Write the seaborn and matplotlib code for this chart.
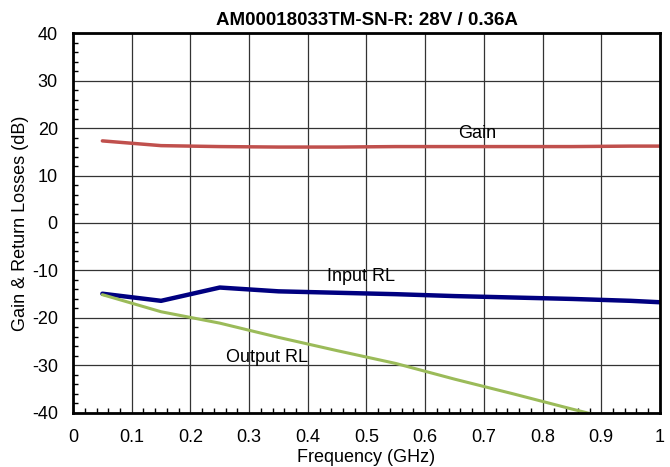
import pandas as pd
import seaborn as sns
import matplotlib.pyplot as plt
from matplotlib.ticker import MultipleLocator

# Data
freq = [0.05, 0.15, 0.25, 0.35, 0.45, 0.55, 0.65, 0.75, 0.85, 0.95, 1.0]
gain = [17.3, 16.3, 16.1, 16.0, 16.0, 16.1, 16.1, 16.1, 16.1, 16.2, 16.2]
input_rl = [-14.9, -16.4, -13.6, -14.4, -14.7, -15.0, -15.4, -15.7, -16.0, -16.4, -16.7]
output_rl = [-15.1, -18.7, -21.1, -24.1, -26.9, -29.6, -32.9, -36.0, -39.2, -42.3, -43.8]
x_labels = ['0', '0.1', '0.2', '0.3', '0.4', '0.5', '0.6', '0.7', '0.8', '0.9', '1']

df = pd.DataFrame({'Frequency': freq, 'Gain': gain,
                   'Input RL': input_rl, 'Output RL': output_rl})

sns.set_style('white')
plt.rcParams['font.family'] = ['Liberation Sans', 'DejaVu Sans']
plt.rcParams['axes.unicode_minus'] = False
plt.rcParams['xtick.bottom'] = True
plt.rcParams['ytick.left'] = True
for key in ['text.color', 'axes.labelcolor', 'xtick.color', 'ytick.color']:
    plt.rcParams[key] = 'black'

fig, ax = plt.subplots(figsize=(6.7, 4.67), dpi=100)

sns.lineplot(x='Frequency', y='Gain', data=df, color='#C0504D', lw=2.5, ax=ax)
sns.lineplot(x='Frequency', y='Input RL', data=df, color='#000080', lw=3.2, ax=ax)
sns.lineplot(x='Frequency', y='Output RL', data=df, color='#9BBB59', lw=2.2, ax=ax)

# Curve labels
ax.text(0.688, 18.9, 'Gain', fontsize=13, ha='center', va='center')
ax.text(0.491, -11.2, 'Input RL', fontsize=13, ha='center', va='center')
ax.text(0.33, -28.4, 'Output RL', fontsize=13, ha='center', va='center')

ax.set_xlim(0, 1)
ax.set_ylim(-40, 40)
ax.set_xticks([i / 10 for i in range(11)])
ax.set_xticklabels(x_labels)
ax.xaxis.set_minor_locator(MultipleLocator(0.02))
ax.yaxis.set_major_locator(MultipleLocator(10))
ax.yaxis.set_minor_locator(MultipleLocator(2))
ax.tick_params(which='both', direction='in', labelsize=13, color='black')
ax.tick_params(which='minor', length=3.5, width=1)
ax.tick_params(axis='x', which='major', length=0, pad=12)
ax.tick_params(axis='y', which='major', length=0, pad=11)
ax.grid(True, which='major', color='#333333', lw=0.9)

for side in ax.spines.values():
    side.set_color('black')
    side.set_linewidth(2)

ax.set_title('AM00018033TM-SN-R: 28V / 0.36A', fontsize=13.5, fontweight='bold', pad=6)
ax.set_xlabel('Frequency (GHz)', fontsize=13, labelpad=2)
ax.set_ylabel('Gain & Return Losses (dB)', fontsize=13, labelpad=2)

plt.subplots_adjust(left=0.109, right=0.985, top=0.929, bottom=0.116)
plt.savefig('out.png', dpi=100)
